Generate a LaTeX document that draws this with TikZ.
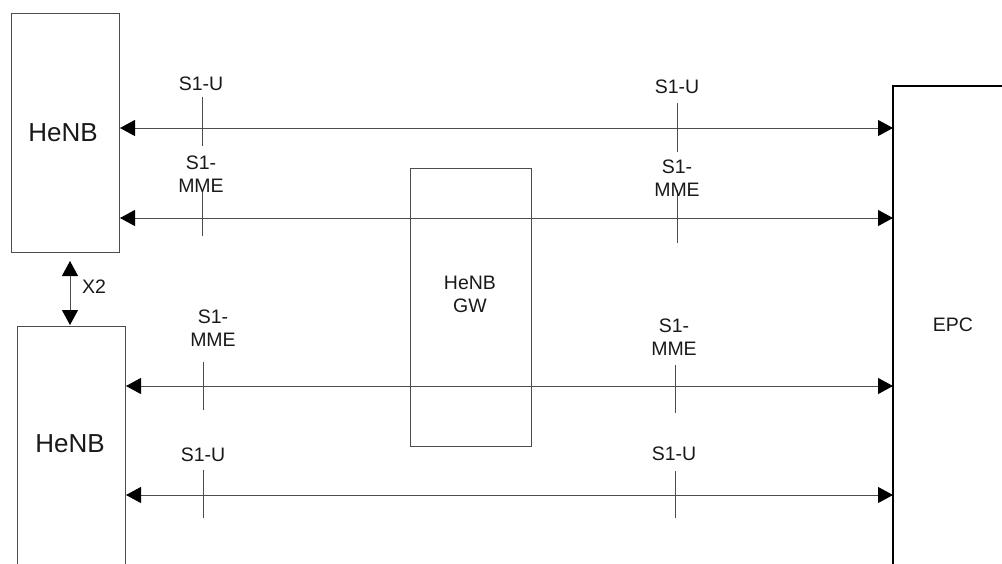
\documentclass[tikz,border=0pt]{standalone}
\usepackage{fontspec}
\setmainfont{Liberation Sans}
\usetikzlibrary{arrows.meta}
\begin{document}
\begin{tikzpicture}[x=1pt,y=-1pt,
  box/.style={draw=black!70,line width=1pt,inner sep=0pt},
  lbl/.style={text=black!90,font=\fontsize{19.5}{23.5}\selectfont,align=center,inner sep=0pt},
  big/.style={text=black!90,font=\fontsize{26}{30}\selectfont,inner sep=0pt},
  link/.style={draw=black!70,line width=1pt,{Triangle[length=15pt,width=16pt,color=black,fill=black]}-{Triangle[length=15pt,width=16pt,color=black,fill=black]}},
  tick/.style={draw=black!70,line width=1pt}]
\useasboundingbox (0,0) rectangle (1002,563);
\clip (0,0) rectangle (1002,563);
% boxes
\node[box,minimum width=108pt,minimum height=239pt] (henbA) at (65,132.5) {};
\node[big] at (63,133) {HeNB};
\draw[draw=black!70,line width=1pt] (17,580) -- (17,326) -- (125,326) -- (125,580);
\coordinate (henbBtop) at (70,326);
\node[big] (henbB) at (70,444) {HeNB};
\node[box,minimum width=121pt,minimum height=278pt] (gw) at (470.5,307) {};
\node[lbl] at (470,294.5) {HeNB\\GW};
\draw[draw=black,line width=2.6pt] (893,580) -- (893,86) -- (1010,86);
\node[lbl] (epc) at (953,325) {EPC};
% connector end coordinates
\coordinate (a1) at (120,128); \coordinate (b1) at (893,128);
\coordinate (a2) at (120,218); \coordinate (b2) at (893,218);
\coordinate (a3) at (126,386); \coordinate (b3) at (893,386);
\coordinate (a4) at (126,495); \coordinate (b4) at (893,495);
\draw[link] (a1) -- (b1);
\draw[link] (a2) -- (b2);
\draw[link] (a3) -- (b3);
\draw[link] (a4) -- (b4);
% X2
\coordinate (x2a) at (70,261);
\coordinate (x2b) at (70,325);
\draw[link] (x2a) -- (x2b);
\node[lbl] at (94,287) {X2};
% ticks
\draw[tick] (202,97) -- (202,146);
\draw[tick] (202,190) -- (202,236);
\draw[tick] (677,103) -- (677,152);
\draw[tick] (677,190) -- (677,243);
\draw[tick] (203,362) -- (203,410);
\draw[tick] (203,470) -- (203,518);
\draw[tick] (675,365) -- (675,413);
\draw[tick] (675,471) -- (675,518);
% labels
\node[lbl] at (201,84) {S1-U};
\node[lbl] at (201,174) {S1-\\MME};
\node[lbl] at (677,87) {S1-U};
\node[lbl] at (677,178) {S1-\\MME};
\node[lbl] at (213,328) {S1-\\MME};
\node[lbl] at (203,455) {S1-U};
\node[lbl] at (674,337) {S1-\\MME};
\node[lbl] at (674,454) {S1-U};
\end{tikzpicture}
\end{document}
